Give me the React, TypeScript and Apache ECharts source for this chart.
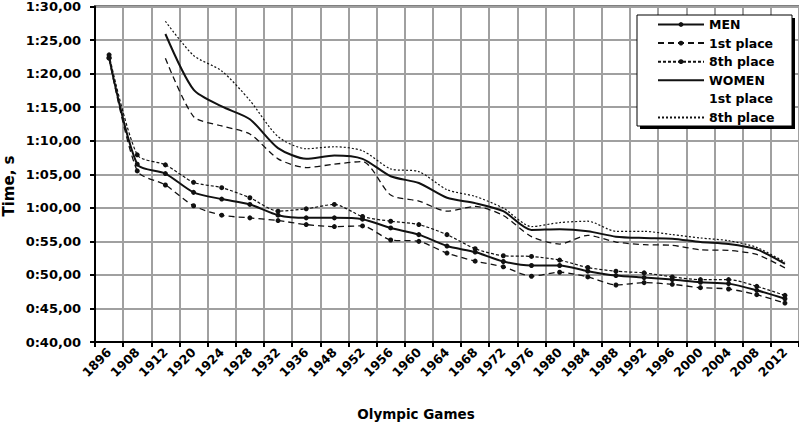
import React, { useEffect, useRef } from "react";
import * as echarts from "echarts";

const years = ["1896","1908","1912","1920","1924","1928","1932","1936","1948","1952","1956","1960","1964","1968","1972","1976","1980","1984","1988","1992","1996","2000","2004","2008","2012"];

const menAvg = [82.4, 66.5, 65.1, 62.3, 61.3, 60.5, 58.9, 58.5, 58.5, 58.3, 57.0, 56.0, 54.3, 53.4, 52.0, 51.4, 51.4, 50.55, 49.9, 49.6, 49.3, 48.9, 48.7, 47.7, 46.45];
const men1st = [82.3, 65.5, 63.4, 60.3, 58.9, 58.5, 58.1, 57.5, 57.2, 57.3, 55.2, 55.0, 53.25, 52.05, 51.2, 49.8, 50.4, 49.7, 48.5, 48.85, 48.6, 48.1, 47.9, 47.05, 45.8];
const men8th = [82.8, 67.9, 66.4, 63.8, 63.0, 61.5, 59.5, 59.85, 60.5, 58.7, 58.0, 57.5, 56.0, 53.9, 52.85, 52.75, 52.2, 51.1, 50.55, 50.3, 49.7, 49.3, 49.3, 48.3, 46.95];

const womenAvg = [null, null, 85.9, 77.6, 75.1, 73.2, 68.9, 67.3, 67.8, 67.3, 64.7, 63.7, 61.5, 60.7, 59.5, 56.7, 56.8, 56.5, 55.7, 55.5, 55.4, 54.9, 54.6, 53.8, 51.65];
const women1st = [null, null, 82.3, 73.6, 72.2, 71.0, 67.3, 66.0, 66.5, 66.9, 61.9, 61.0, 59.5, 60.2, 58.85, 55.7, 54.6, 55.9, 54.9, 54.5, 54.4, 53.75, 53.65, 53.05, 51.05];
const women8th = [null, null, 87.8, 82.7, 80.4, 76.0, 70.6, 68.8, 69.1, 68.5, 65.8, 65.4, 62.7, 61.7, 59.95, 57.2, 57.8, 58.0, 56.5, 56.5, 56.0, 55.5, 55.1, 54.1, 51.9];

const seriesNames = ["MEN", "MEN 1st place", "MEN 8th place", "WOMEN", "WOMEN 1st place", "WOMEN 8th place"];
const legendLabels = ["MEN", "1st place", "8th place", "WOMEN", "1st place", "8th place"];

const FONT = "DejaVu Sans";

export default function App() {
  const ref = useRef<HTMLDivElement>(null);
  useEffect(() => {
    if (!ref.current) return;
    const chart = echarts.init(ref.current, null, { renderer: "svg" });
    const fmt = (v: number) => {
      const m = Math.floor(v / 60);
      const s = Math.round(v - m * 60);
      return `${m}:${String(s).padStart(2, "0")},00`;
    };
    const menLine = (name: string, data: number[], type: any, width: number) => ({
      name,
      type: "line",
      data,
      smooth: 0.25,
      symbol: "circle",
      symbolSize: 5,
      itemStyle: { color: "#111" },
      lineStyle: { color: "#111", width, type },
      z: 3,
    });
    const womenLine = (name: string, data: (number | null)[], type: any, width: number) => ({
      name,
      type: "line",
      data,
      smooth: 0.25,
      symbol: "none",
      itemStyle: { color: "#111" },
      lineStyle: { color: "#111", width, type },
      z: 3,
    });
    const hidden = { color: "transparent", borderColor: "transparent", borderWidth: 0 };
    chart.setOption({
      animation: false,
      backgroundColor: "#fff",
      grid: {
        left: 95,
        top: 6,
        right: -2,
        bottom: 80,
        show: true,
        borderColor: "#000",
        borderWidth: 2,
        backgroundColor: "transparent",
      },
      xAxis: {
        type: "category",
        data: years,
        boundaryGap: true,
        axisLine: { lineStyle: { color: "#000", width: 2 } },
        axisTick: { show: true, interval: 0, length: 5, lineStyle: { color: "#000", width: 2 } },
        axisLabel: {
          interval: 0,
          rotate: 45,
          margin: 8,
          color: "#000",
          fontFamily: FONT,
          fontWeight: "bold",
          fontSize: 12.5,
        },
        splitLine: { show: true, interval: 0, lineStyle: { color: "#a0a0a0", width: 2 } },
      },
      yAxis: {
        type: "value",
        min: 40,
        max: 90,
        interval: 5,
        axisLine: { show: true, lineStyle: { color: "#000", width: 2 } },
        axisTick: { show: true, length: 5, lineStyle: { color: "#000", width: 2 } },
        axisLabel: {
          formatter: fmt,
          margin: 14,
          color: "#000",
          fontFamily: FONT,
          fontWeight: "bold",
          fontSize: 13,
        },
        splitLine: { show: true, lineStyle: { color: "#a0a0a0", width: 2 } },
      },
      legend: {
        orient: "vertical",
        left: 652,
        top: 13,
        padding: [5, 5, 5, 5],
        itemWidth: 46,
        itemHeight: 6,
        itemGap: 5.6,
        z: 10,
        textStyle: { color: "#000", fontFamily: FONT, fontWeight: "bold", fontSize: 12.5, lineHeight: 12 },
        formatter: (name: string) => legendLabels[seriesNames.indexOf(name)] ?? name,
        data: [
          { name: seriesNames[0] },
          { name: seriesNames[1] },
          { name: seriesNames[2] },
          { name: seriesNames[3], itemStyle: hidden },
          { name: seriesNames[4], itemStyle: hidden, lineStyle: { opacity: 0 } },
          { name: seriesNames[5], itemStyle: hidden },
        ],
      },
      graphic: [
        { type: "rect", z: 5, shape: { x: 640, y: 18, width: 155, height: 111 }, style: { fill: "#000" } },
        { type: "rect", z: 6, shape: { x: 637, y: 15, width: 155, height: 111 }, style: { fill: "#fff", stroke: "#000", lineWidth: 1 } },
        {
          type: "text",
          z: 6,
          x: 9,
          y: 186,
          rotation: Math.PI / 2,
          style: {
            text: "Time, s",
            fill: "#000",
            font: `bold 15px "${FONT}"`,
            textAlign: "center",
            textVerticalAlign: "middle",
          },
        },
        {
          type: "text",
          z: 6,
          x: 416,
          y: 414,
          style: {
            text: "Olympic Games",
            fill: "#000",
            font: `bold 13.5px "${FONT}"`,
            textAlign: "center",
            textVerticalAlign: "middle",
          },
        },
      ],
      series: [
        menLine(seriesNames[0], menAvg, "solid", 2),
        menLine(seriesNames[1], men1st, [6, 4], 1.3),
        menLine(seriesNames[2], men8th, [3, 2], 1.2),
        womenLine(seriesNames[3], womenAvg, "solid", 2),
        womenLine(seriesNames[4], women1st, [6, 4], 1.3),
        womenLine(seriesNames[5], women8th, [2, 2], 1.2),
      ],
    });
    return () => chart.dispose();
  }, []);
  return (
    <div
      ref={ref}
      style={{ position: "fixed", left: 0, top: 0, width: 799, height: 422, background: "#fff" }}
    />
  );
}
